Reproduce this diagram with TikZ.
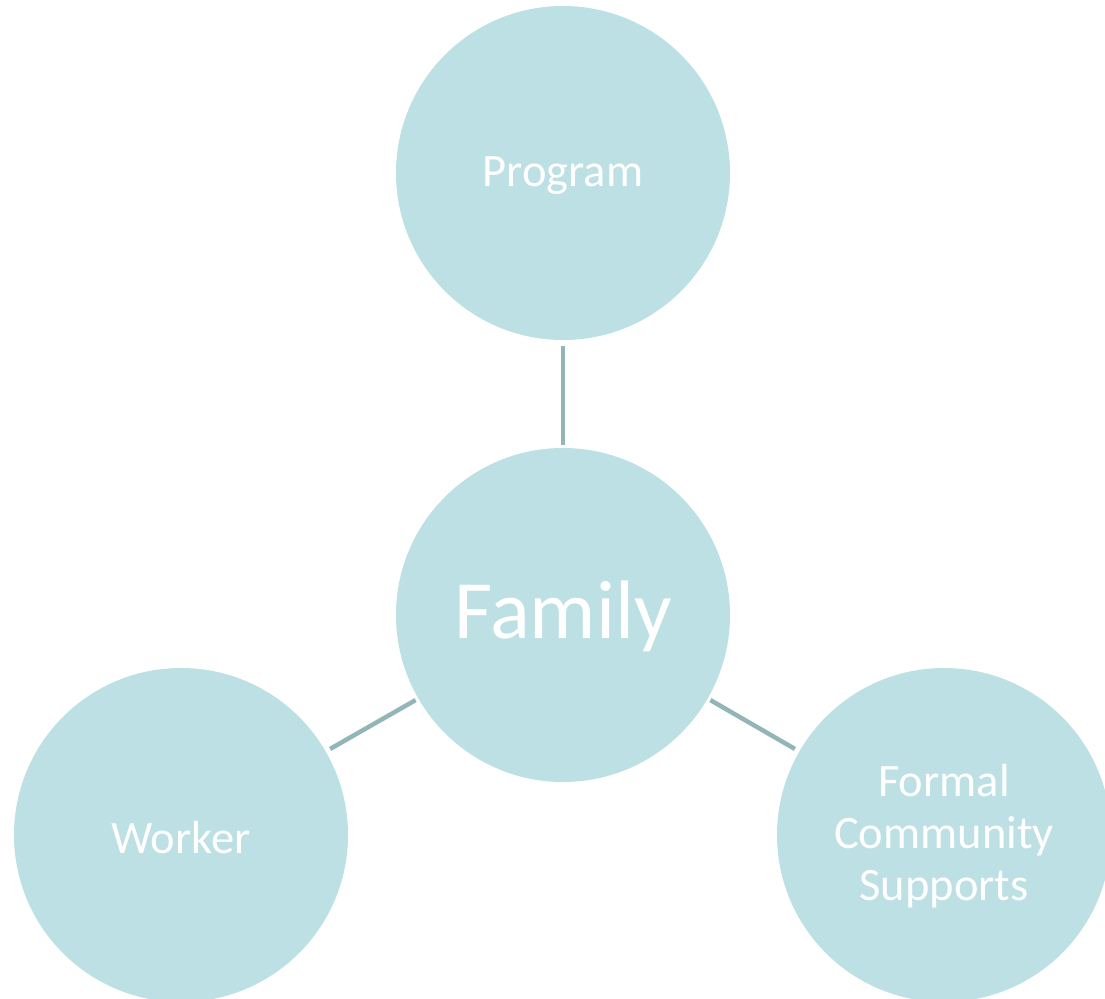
\documentclass[tikz,border=0pt]{standalone}
\usepackage{fontspec}
\setmainfont{Carlito}
\definecolor{circfill}{HTML}{BCE0E3}
\definecolor{linkcol}{HTML}{93B5B7}
\begin{document}
\begin{tikzpicture}[x=1pt,y=-1pt,
  bubble/.style={circle,fill=circfill,minimum size=334pt,inner sep=0pt,text=white,align=center,font=\fontsize{46.5}{52}\selectfont},
  lbl/.style={text=white,align=center,font=\fontsize{46.5}{52}\selectfont,inner sep=0pt},
  link/.style={draw=linkcol,line width=4.5pt}]
\useasboundingbox (0,0) rectangle (1105,998);
\begin{scope}
\clip (0,0) rectangle (1105,998);
\node[bubble] (prog) at (563,173) {};
\node[bubble] (fam) at (563,615) {};
\node[bubble] (work) at (181,835) {};
\node[bubble] (form) at (944,835) {};
\end{scope}
\node[lbl] (progt) at (563,176) {Program};
\node[lbl,font=\fontsize{83}{90}\selectfont] (famt) at (563,616) {Family};
\node[lbl] (workt) at (181,838) {Worker};
\node[lbl] (formt) at (944,836) {Formal\\Community\\Supports};
\draw[link,shorten <=6pt,shorten >=3pt] (prog) -- (fam);
\draw[link,shorten <=3pt,shorten >=5pt] (fam.210) -- (work.30);
\draw[link,shorten <=3pt,shorten >=5pt] (fam.-30) -- (form.150);
\end{tikzpicture}
\end{document}
